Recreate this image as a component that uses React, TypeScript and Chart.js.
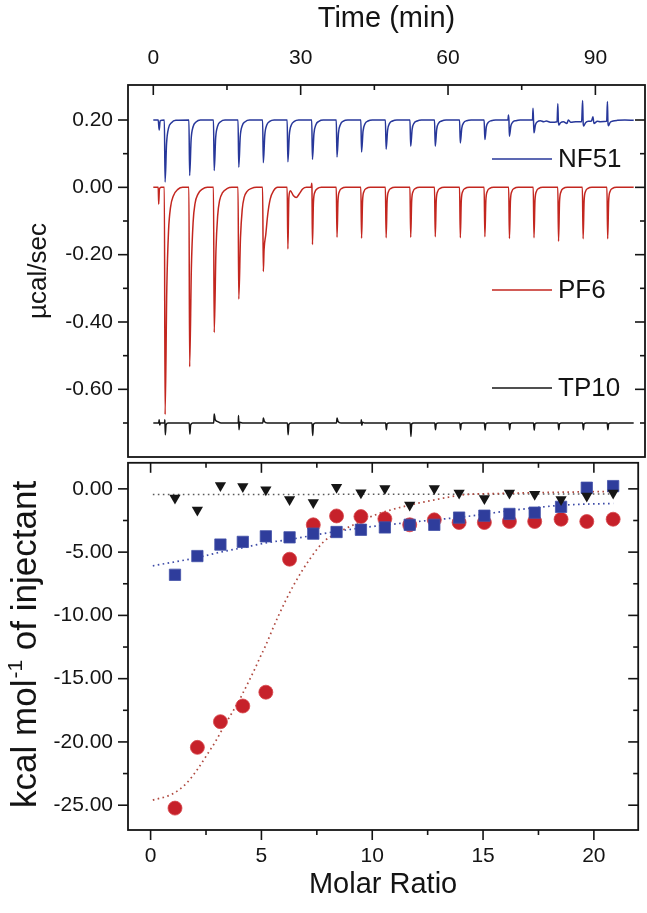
import React, { useEffect, useRef } from 'react';
import { Chart, registerables } from 'chart.js';

Chart.register(...registerables);

const FONT = "'Liberation Sans', Arial, Helvetica, sans-serif";
const INK = '#141414';
const BLUE = '#27379a';
const RED = '#c3261f';
const BLACK = '#161616';

// ---------- top panel: raw heat flow vs time ----------
const timeTicks = [0, 30, 60, 90];
const timeMinorTicks = [15, 45, 75];
const powerTicks = [0.2, 0, -0.2, -0.4, -0.6];
const powerMinorTicks = [0.1, -0.1, -0.3, -0.5, -0.7];
const seriesNames = ['NF51', 'PF6', 'TP10'];

const nf51Trace: [number, number][] = [
  [0, 0.2], [1.0, 0.2], [1.2, 0.17], [1.4, 0.198], [2.25, 0.2],
  [2.4, 0.016], [2.7, 0.13], [3.1, 0.176], [3.7, 0.192], [4.6, 0.199], [7.25, 0.2],
  [7.4, 0.035], [7.7, 0.142], [8.1, 0.18], [8.7, 0.194], [9.6, 0.2], [12.25, 0.2],
  [12.4, 0.05], [12.7, 0.148], [13.1, 0.182], [13.7, 0.195], [14.6, 0.2], [17.25, 0.2],
  [17.4, 0.06], [17.7, 0.151], [18.1, 0.183], [18.7, 0.195], [19.6, 0.2], [22.25, 0.2],
  [22.4, 0.073], [22.7, 0.156], [23.1, 0.185], [23.7, 0.196], [24.6, 0.2], [27.25, 0.2],
  [27.4, 0.076], [27.7, 0.157], [28.1, 0.185], [28.7, 0.196], [29.6, 0.2], [32.25, 0.2],
  [32.4, 0.083], [32.7, 0.159], [33.1, 0.186], [33.7, 0.196], [34.6, 0.2], [37.25, 0.2],
  [37.4, 0.09], [37.7, 0.162], [38.1, 0.187], [38.7, 0.197], [39.6, 0.2], [42.25, 0.2],
  [42.4, 0.105], [42.7, 0.167], [43.1, 0.189], [43.7, 0.197], [44.6, 0.2], [47.25, 0.2],
  [47.4, 0.113], [47.7, 0.17], [48.1, 0.19], [48.7, 0.197], [49.6, 0.2], [52.25, 0.2],
  [52.4, 0.122], [52.7, 0.173], [53.1, 0.191], [53.7, 0.197], [54.6, 0.2], [57.25, 0.2],
  [57.4, 0.122], [57.7, 0.173], [58.1, 0.191], [58.7, 0.197], [59.6, 0.2], [62.35, 0.2],
  [62.5, 0.132], [62.8, 0.176], [63.2, 0.192], [63.8, 0.198], [64.7, 0.2], [67.35, 0.2],
  [67.5, 0.142], [67.8, 0.18], [68.2, 0.193], [68.8, 0.198], [69.7, 0.2], [72.2, 0.2],
  [72.3, 0.215], [72.4, 0.2], [72.5, 0.152], [72.8, 0.183], [73.2, 0.194], [73.8, 0.198], [74.7, 0.2], [77.2, 0.2],
  [77.3, 0.235], [77.4, 0.2], [77.5, 0.162], [77.8, 0.186], [78.2, 0.195], [78.8, 0.198], [79.5, 0.195], [80, 0.197], [81, 0.193], [82.2, 0.195],
  [82.35, 0.248], [82.45, 0.2], [82.55, 0.185], [82.9, 0.192], [83.5, 0.195], [84.2, 0.19], [84.5, 0.2], [85, 0.193], [86, 0.195], [87.2, 0.195],
  [87.4, 0.258], [87.5, 0.195], [87.6, 0.182], [88, 0.192], [88.6, 0.196], [89.2, 0.197], [89.5, 0.21], [89.7, 0.19], [90.4, 0.196], [91, 0.195], [92.3, 0.196],
  [92.45, 0.255], [92.55, 0.195], [92.65, 0.183], [93, 0.193], [93.6, 0.197], [94.5, 0.199], [96, 0.2], [97.8, 0.199],
];

const pf6Trace: [number, number][] = [
  [0, 0], [1.0, 0], [1.1, -0.05], [1.25, -0.005], [1.6, 0], [2.25, 0],
  [2.4, -0.675], [2.75, -0.3], [3.1, -0.13], [3.5, -0.06], [4.1, -0.025], [5.0, -0.006], [6.0, 0], [7.25, 0],
  [7.4, -0.533], [7.75, -0.24], [8.1, -0.105], [8.5, -0.048], [9.1, -0.02], [10.0, -0.005], [11.0, 0], [12.25, 0],
  [12.4, -0.431], [12.75, -0.19], [13.1, -0.085], [13.5, -0.039], [14.1, -0.016], [15.0, -0.004], [16.0, 0], [17.25, 0],
  [17.4, -0.332], [17.75, -0.15], [18.1, -0.066], [18.5, -0.03], [19.1, -0.012], [20.0, -0.003], [21.0, 0], [22.25, 0],
  [22.4, -0.25], [22.55, -0.185], [22.9, -0.14], [23.3, -0.08], [23.8, -0.035], [24.5, -0.01], [25.3, 0], [27.25, 0],
  [27.4, -0.183], [27.6, -0.03], [27.9, -0.01], [28.5, -0.024], [29.1, -0.03], [29.7, -0.02], [30.4, -0.005], [31.2, 0], [32.15, 0], [32.25, 0.012], [32.3, 0],
  [32.4, -0.17], [32.6, -0.045], [32.9, -0.014], [33.4, -0.004], [34.2, 0], [37.25, 0],
  [37.4, -0.148], [37.6, -0.04], [37.9, -0.012], [38.4, -0.003], [39.2, 0], [42.25, 0],
  [42.4, -0.151], [42.6, -0.041], [42.9, -0.012], [43.4, -0.003], [44.2, 0], [47.25, 0],
  [47.4, -0.15], [47.6, -0.04], [47.9, -0.012], [48.4, -0.003], [49.2, 0], [52.25, 0],
  [52.4, -0.148], [52.6, -0.04], [52.9, -0.012], [53.4, -0.003], [54.2, 0], [57.25, 0],
  [57.4, -0.147], [57.6, -0.04], [57.9, -0.012], [58.4, -0.003], [59.2, 0], [62.35, 0],
  [62.5, -0.15], [62.7, -0.04], [63.0, -0.012], [63.5, -0.003], [64.3, 0], [67.35, 0],
  [67.5, -0.147], [67.7, -0.04], [68.0, -0.012], [68.5, -0.003], [69.3, 0], [72.35, 0],
  [72.5, -0.152], [72.7, -0.041], [73.0, -0.012], [73.5, -0.003], [74.3, 0], [77.35, 0],
  [77.5, -0.15], [77.7, -0.04], [78.0, -0.012], [78.5, -0.003], [79.3, 0], [82.35, 0],
  [82.5, -0.16], [82.7, -0.043], [83.0, -0.013], [83.5, -0.003], [84.3, 0], [87.35, 0],
  [87.5, -0.153], [87.7, -0.041], [88.0, -0.012], [88.5, -0.003], [89.3, 0], [92.35, 0],
  [92.5, -0.153], [92.7, -0.041], [93.0, -0.012], [93.5, -0.003], [94.3, 0], [97.8, 0],
];

const tp10Trace: [number, number][] = [
  [0, -0.7], [1.1, -0.7], [1.2, -0.69], [1.3, -0.706], [1.45, -0.7],
  [2.3, -0.7], [2.35, -0.69], [2.45, -0.735], [2.6, -0.705], [3.0, -0.7],
  [7.3, -0.7], [7.45, -0.733], [7.6, -0.706], [8.0, -0.7],
  [12.3, -0.7], [12.4, -0.673], [12.6, -0.69], [13.0, -0.695], [13.8, -0.7],
  [17.3, -0.7], [17.35, -0.678], [17.45, -0.72], [17.6, -0.698], [18.3, -0.7],
  [22.3, -0.7], [22.4, -0.685], [22.6, -0.695], [23.2, -0.7],
  [27.3, -0.7], [27.45, -0.735], [27.6, -0.704], [28.0, -0.7],
  [32.3, -0.7], [32.45, -0.737], [32.6, -0.704], [33.0, -0.7],
  [37.3, -0.7], [37.4, -0.685], [37.6, -0.695], [38.2, -0.7],
  [42.3, -0.7], [42.35, -0.69], [42.45, -0.707], [42.6, -0.698], [43.0, -0.7],
  [47.3, -0.7], [47.45, -0.72], [47.6, -0.702], [48.0, -0.7],
  [52.3, -0.7], [52.45, -0.74], [52.6, -0.703], [53.0, -0.7],
  [57.3, -0.7], [57.45, -0.72], [57.6, -0.702], [58.0, -0.7],
  [62.4, -0.7], [62.55, -0.72], [62.7, -0.702], [63.1, -0.7],
  [67.4, -0.7], [67.55, -0.721], [67.7, -0.702], [68.1, -0.7],
  [72.4, -0.7], [72.55, -0.72], [72.7, -0.702], [73.1, -0.7],
  [77.4, -0.7], [77.55, -0.721], [77.7, -0.702], [78.1, -0.7],
  [82.4, -0.7], [82.55, -0.72], [82.7, -0.702], [83.1, -0.7],
  [87.4, -0.7], [87.55, -0.72], [87.7, -0.702], [88.1, -0.7],
  [92.4, -0.7], [92.55, -0.72], [92.7, -0.702], [93.1, -0.7],
  [97.8, -0.7],
];

// ---------- bottom panel: integrated heats vs molar ratio ----------
const ratioTicks = [0, 5, 10, 15, 20];
const ratioMinorTicks = [2.5, 7.5, 12.5, 17.5];
const heatTicks = [0, -5, -10, -15, -20, -25];
const heatMinorTicks = [-2.5, -7.5, -12.5, -17.5, -22.5];

const molarRatio = [1.10, 2.11, 3.15, 4.16, 5.20, 6.27, 7.34, 8.39, 9.49, 10.57, 11.69, 12.80, 13.92, 15.06, 16.19, 17.33, 18.52, 19.68, 20.87];
const nf51Heat = [-6.79, -5.31, -4.40, -4.19, -3.75, -3.83, -3.54, -3.41, -3.23, -3.05, -2.84, -2.84, -2.27, -2.12, -1.98, -1.88, -1.42, 0.09, 0.22];
const pf6Heat = [-25.23, -20.43, -18.40, -17.16, -16.07, -5.56, -2.84, -2.14, -2.19, -2.37, -2.84, -2.45, -2.66, -2.66, -2.58, -2.58, -2.40, -2.58, -2.40];
const tp10Heat = [-0.72, -1.67, 0.27, 0.19, -0.06, -0.84, -1.07, 0.12, -0.30, 0.02, -1.28, 0.02, -0.33, -0.76, -0.33, -0.43, -0.84, -0.56, -0.33];

const pf6FitRatio = [0.10, 1.00, 1.60, 2.10, 2.55, 2.93, 3.22, 3.52, 3.97, 4.19, 4.49, 4.71, 4.93, 5.16, 5.75, 6.49, 7.23, 7.83, 8.42, 9.31, 10.13, 11.69, 12.73, 14.22, 15.70, 17.30, 19.10, 20.90];
const pf6Fit = [-24.6, -24.1, -23.3, -22.2, -21.0, -19.96, -19.05, -18.15, -16.8, -16.05, -15.0, -14.2, -13.35, -12.5, -10.1, -7.5, -5.43, -4.14, -3.49, -2.71, -2.06, -1.28, -0.9, -0.45, -0.37, -0.3, -0.25, -0.2];
const nf51FitRatio = [0.10, 2.11, 3.15, 4.16, 5.20, 6.27, 7.34, 8.39, 10.13, 11.69, 14.22, 16.45, 18.68, 20.87];
const nf51Fit = [-6.08, -5.43, -5.0, -4.65, -4.27, -4.0, -3.67, -3.36, -2.95, -2.65, -2.19, -1.67, -1.28, -1.15];
const tp10FitRatio = [0.10, 10.5, 20.87];
const tp10Fit = [-0.45, -0.43, -0.40];

const pairs = (xs: number[], ys: number[]) => xs.map((x, i) => ({ x, y: ys[i] }));
const tracePts = (t: [number, number][]) => t.map(([x, y]) => ({ x, y }));

type Side = 'in' | 'out' | 'none';

function framePlugin(id: string, spec: {
  xMajor: number[]; xMinor: number[]; yMajor: number[]; yMinor: number[];
  top: Side; bottom: Side; left: Side; right: Side;
  extra: (chart: any) => void;
}) {
  return {
    id,
    afterDraw(chart: any) {
      const { ctx, chartArea: a, scales } = chart;
      const xs = scales.x;
      const ys = scales.y;
      ctx.save();
      ctx.strokeStyle = INK;
      ctx.lineWidth = 1.8;
      ctx.strokeRect(a.left, a.top, a.right - a.left, a.bottom - a.top);
      ctx.lineWidth = 1.6;
      const line = (x1: number, y1: number, x2: number, y2: number) => {
        ctx.beginPath();
        ctx.moveTo(x1, y1);
        ctx.lineTo(x2, y2);
        ctx.stroke();
      };
      const doX = (vals: number[], len: number) => {
        vals.forEach((v) => {
          const px = xs.getPixelForValue(v);
          if (spec.top === 'in') line(px, a.top, px, a.top + len);
          if (spec.top === 'out') line(px, a.top, px, a.top - len);
          if (spec.bottom === 'in') line(px, a.bottom, px, a.bottom - len);
          if (spec.bottom === 'out') line(px, a.bottom, px, a.bottom + len);
        });
      };
      const doY = (vals: number[], len: number) => {
        vals.forEach((v) => {
          const py = ys.getPixelForValue(v);
          if (spec.left === 'in') line(a.left, py, a.left + len, py);
          if (spec.left === 'out') line(a.left, py, a.left - len, py);
          if (spec.right === 'in') line(a.right, py, a.right - len, py);
          if (spec.right === 'out') line(a.right, py, a.right + len, py);
        });
      };
      doX(spec.xMajor, 10);
      doX(spec.xMinor, 5);
      doY(spec.yMajor, 10);
      doY(spec.yMinor, 5);
      ctx.restore();
      ctx.save();
      spec.extra(chart);
      ctx.restore();
    },
  };
}

const tickFont = { family: FONT, size: 21 };

const fixWidth = (w: number) => (s: any) => {
  s.width = w;
  s.paddingTop = 0;
  s.paddingBottom = 0;
  s.paddingLeft = 0;
  s.paddingRight = 0;
};
const fixHeight = (h: number) => (s: any) => {
  s.height = h;
  s.paddingTop = 0;
  s.paddingBottom = 0;
  s.paddingLeft = 0;
  s.paddingRight = 0;
};

export default function App() {
  const topRef = useRef<HTMLCanvasElement | null>(null);
  const botRef = useRef<HTMLCanvasElement | null>(null);

  useEffect(() => {
    const traceColors = [BLUE, RED, BLACK];
    const traces = [nf51Trace, pf6Trace, tp10Trace];

    const topChart = new Chart(topRef.current as HTMLCanvasElement, {
      type: 'line',
      data: {
        datasets: traces.map((t, i) => ({
          label: seriesNames[i],
          data: tracePts(t),
          borderColor: traceColors[i],
          borderWidth: 1.5,
          pointRadius: 0,
          fill: false,
          cubicInterpolationMode: 'monotone',
        })),
      },
      options: {
        responsive: false,
        animation: false,
        devicePixelRatio: 1,
        layout: { padding: { left: 0, right: 2, top: 0, bottom: 3 } },
        plugins: { legend: { display: false }, tooltip: { enabled: false } },
        scales: {
          x: {
            type: 'linear',
            position: 'top',
            min: -5.15,
            max: 100.1,
            grid: { display: false, drawTicks: false },
            border: { display: false },
            afterBuildTicks: (s: any) => { s.ticks = timeTicks.map((v) => ({ value: v })); },
            afterFit: fixHeight(85),
            ticks: { padding: 14, font: tickFont, color: INK, autoSkip: false, maxRotation: 0, callback: (v: any) => String(v) },
          },
          y: {
            type: 'linear',
            min: -0.801,
            max: 0.304,
            grid: { display: false, drawTicks: false },
            border: { display: false },
            afterBuildTicks: (s: any) => { s.ticks = powerTicks.map((v) => ({ value: v })); },
            afterFit: fixWidth(128),
            ticks: { padding: 15, font: tickFont, color: INK, autoSkip: false, callback: (v: any) => Number(v).toFixed(2) },
          },
        },
      } as any,
      plugins: [
        framePlugin('topFrame', {
          xMajor: timeTicks, xMinor: timeMinorTicks, yMajor: powerTicks, yMinor: powerMinorTicks,
          top: 'in', bottom: 'none', left: 'out', right: 'in',
          extra: (chart: any) => {
            const { ctx, chartArea: a } = chart;
            ctx.fillStyle = INK;
            ctx.font = `29px ${FONT}`;
            ctx.textAlign = 'center';
            ctx.textBaseline = 'alphabetic';
            ctx.fillText('Time (min)', (a.left + a.right) / 2, 27);
            ctx.save();
            ctx.translate(46, (a.top + a.bottom) / 2);
            ctx.rotate(-Math.PI / 2);
            ctx.font = `26px ${FONT}`;
            ctx.fillText('µcal/sec', 0, 0);
            ctx.restore();
            const rows = [159, 290, 388];
            ctx.font = `26px ${FONT}`;
            ctx.textAlign = 'left';
            ctx.textBaseline = 'middle';
            rows.forEach((yy, i) => {
              ctx.strokeStyle = traceColors[i];
              ctx.lineWidth = 1.6;
              ctx.beginPath();
              ctx.moveTo(492, yy);
              ctx.lineTo(552, yy);
              ctx.stroke();
              ctx.fillStyle = INK;
              ctx.fillText(seriesNames[i], 558, yy + 1);
            });
          },
        }),
      ],
    } as any);

    const botChart = new Chart(botRef.current as HTMLCanvasElement, {
      type: 'line',
      data: {
        datasets: [
          {
            label: 'TP10', data: pairs(molarRatio, tp10Heat), showLine: false,
            pointStyle: 'triangle', pointRotation: 180, pointRadius: 6.5,
            backgroundColor: BLACK, borderColor: BLACK, borderWidth: 0,
          },
          {
            label: 'NF51', data: pairs(molarRatio, nf51Heat), showLine: false,
            pointStyle: 'rect', pointRadius: 8,
            backgroundColor: '#2f3d9c', borderColor: '#4250a8', borderWidth: 0.8,
          },
          {
            label: 'PF6', data: pairs(molarRatio, pf6Heat), showLine: false,
            pointStyle: 'circle', pointRadius: 7,
            backgroundColor: '#c6212a', borderColor: '#d8474c', borderWidth: 0.8,
          },
          {
            label: 'PF6 fit', data: pairs(pf6FitRatio, pf6Fit), pointRadius: 0,
            borderColor: '#b04a40', borderWidth: 1.7, borderDash: [1.6, 3.4], cubicInterpolationMode: 'monotone',
          },
          {
            label: 'NF51 fit', data: pairs(nf51FitRatio, nf51Fit), pointRadius: 0,
            borderColor: '#3e4ca8', borderWidth: 1.7, borderDash: [1.6, 3.4], cubicInterpolationMode: 'monotone',
          },
          {
            label: 'TP10 fit', data: pairs(tp10FitRatio, tp10Fit), pointRadius: 0,
            borderColor: '#5a5a5a', borderWidth: 1.5, borderDash: [1.6, 3.4], cubicInterpolationMode: 'monotone',
          },
        ],
      },
      options: {
        responsive: false,
        animation: false,
        devicePixelRatio: 1,
        layout: { padding: { left: 0, right: 2, top: 3, bottom: 0 } },
        plugins: { legend: { display: false }, tooltip: { enabled: false } },
        scales: {
          x: {
            type: 'linear',
            position: 'bottom',
            min: -1.02,
            max: 22.0,
            grid: { display: false, drawTicks: false },
            border: { display: false },
            afterBuildTicks: (s: any) => { s.ticks = ratioTicks.map((v) => ({ value: v })); },
            afterFit: fixHeight(83),
            ticks: { padding: 14, font: tickFont, color: INK, autoSkip: false, maxRotation: 0, callback: (v: any) => String(v) },
          },
          y: {
            type: 'linear',
            min: -26.96,
            max: 2.06,
            grid: { display: false, drawTicks: false },
            border: { display: false },
            afterBuildTicks: (s: any) => { s.ticks = heatTicks.map((v) => ({ value: v })); },
            afterFit: fixWidth(128),
            ticks: { padding: 15, font: tickFont, color: INK, autoSkip: false, callback: (v: any) => Number(v).toFixed(2) },
          },
        },
      } as any,
      plugins: [
        framePlugin('botFrame', {
          xMajor: ratioTicks, xMinor: ratioMinorTicks, yMajor: heatTicks, yMinor: heatMinorTicks,
          top: 'in', bottom: 'out', left: 'out', right: 'in',
          extra: (chart: any) => {
            const { ctx, chartArea: a } = chart;
            ctx.fillStyle = INK;
            ctx.font = `29px ${FONT}`;
            ctx.textAlign = 'center';
            ctx.textBaseline = 'alphabetic';
            ctx.fillText('Molar Ratio', (a.left + a.right) / 2, 439);
            const big = `35px ${FONT}`;
            const small = `21px ${FONT}`;
            const p1 = 'kcal mol';
            const sup = '-1';
            const p2 = ' of injectant';
            ctx.font = big;
            const w1 = ctx.measureText(p1).width;
            const w3 = ctx.measureText(p2).width;
            ctx.font = small;
            const w2 = ctx.measureText(sup).width + 1;
            const total = w1 + w2 + w3;
            ctx.save();
            ctx.translate(36, (a.top + a.bottom) / 2 - 2);
            ctx.rotate(-Math.PI / 2);
            ctx.textAlign = 'left';
            let x0 = -total / 2;
            ctx.font = big;
            ctx.fillText(p1, x0, 0);
            x0 += w1;
            ctx.font = small;
            ctx.fillText(sup, x0 + 1, -14);
            x0 += w2;
            ctx.font = big;
            ctx.fillText(p2, x0, 0);
            ctx.restore();
          },
        }),
      ],
    } as any);

    return () => {
      topChart.destroy();
      botChart.destroy();
    };
  }, []);

  return (
    <div style={{ position: 'absolute', left: 0, top: 0, width: 647, height: 913, background: '#fff', overflow: 'hidden' }}>
      <canvas ref={topRef} width={647} height={460} style={{ position: 'absolute', left: 0, top: 0, width: 647, height: 460 }} />
      <canvas ref={botRef} width={647} height={459} style={{ position: 'absolute', left: 0, top: 454, width: 647, height: 459 }} />
    </div>
  );
}
